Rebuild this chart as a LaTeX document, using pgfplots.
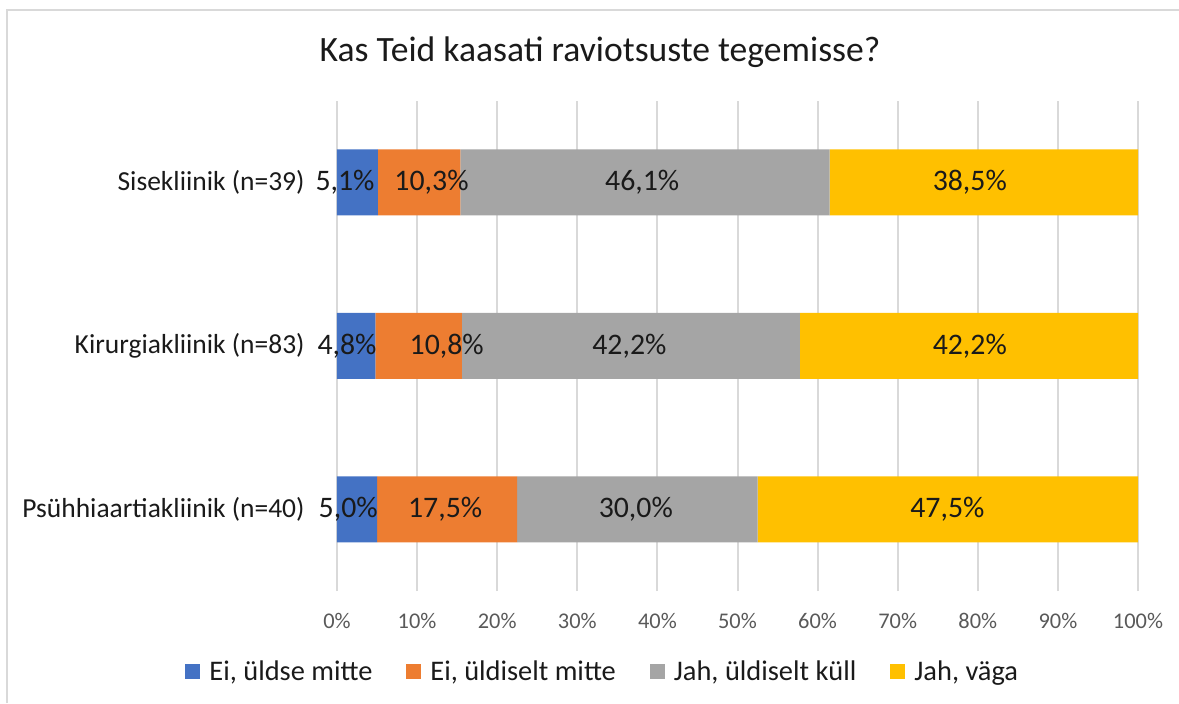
\documentclass[border=0pt]{standalone}
\usepackage{pgfplots}
\pgfplotsset{compat=1.18}
\usepackage{fontspec}
\setmainfont{Carlito}
\definecolor{cBlue}{HTML}{4472C4}
\definecolor{cOrange}{HTML}{ED7D31}
\definecolor{cGray}{HTML}{A5A5A5}
\definecolor{cYellow}{HTML}{FFC000}
\definecolor{gridgray}{HTML}{D9D9D9}
\definecolor{tickgray}{HTML}{595959}
\definecolor{txt}{HTML}{1A1A1A}
\tikzset{dl/.style={font=\fontsize{14.9}{17}\selectfont, text=txt}}
\begin{document}
\begin{tikzpicture}
\useasboundingbox (0,0) rectangle (589.5pt,351.5pt);
\draw[color=gridgray, line width=1pt] (3.5pt,0pt) -- (3.5pt,346.5pt) -- (589.5pt,346.5pt);
\node[font=\fontsize{17.8}{20}\selectfont, text=txt] at (300pt,325.5pt) {Kas Teid kaasati raviotsuste tegemisse?};
\begin{axis}[
  at={(168.5pt,56pt)}, anchor=south west,
  scale only axis, width=400.5pt, height=245.25pt,
  xbar stacked, bar width=33pt,
  xmin=0, xmax=100, ymin=-0.5, ymax=2.5,
  clip=false,
  axis line style={draw=none},
  major tick length=0pt,
  xmajorgrids, grid style={color=gridgray, line width=1pt},
  xtick={0,10,...,100},
  xticklabels={0\%,10\%,20\%,30\%,40\%,50\%,60\%,70\%,80\%,90\%,100\%},
  xticklabel style={font=\fontsize{11.2}{13}\selectfont, text=tickgray, anchor=center, yshift=-15pt},
  ytick={0,1,2},
  yticklabels={Psühhiaartiakliinik (n=40),Kirurgiakliinik (n=83),Sisekliinik (n=39)},
  yticklabel style={font=\fontsize{13.75}{16}\selectfont, text=txt, anchor=east, inner sep=0pt, xshift=-16pt},
  legend columns=4,
  legend cell align=left,
  legend image code/.code={\fill[#1] (0pt,-3.75pt) rectangle (7.5pt,3.75pt);},
  legend style={at={(0.333,-0.165)}, anchor=center, draw=none, fill=none,
    font=\fontsize{14.2}{16}\selectfont, text=txt,
    /tikz/every odd column/.append style={column sep=2.5pt},
    /tikz/every even column/.append style={column sep=15pt}},
]
\addplot[fill=cBlue, draw=none] coordinates {(5.0,0) (4.8,1) (5.1,2)};
\addlegendentry{Ei, üldse mitte}
\addplot[fill=cOrange, draw=none] coordinates {(17.5,0) (10.8,1) (10.3,2)};
\addlegendentry{Ei, üldiselt mitte}
\addplot[fill=cGray, draw=none] coordinates {(30.0,0) (42.2,1) (46.1,2)};
\addlegendentry{Jah, üldiselt küll}
\addplot[fill=cYellow, draw=none] coordinates {(47.5,0) (42.2,1) (38.5,2)};
\addlegendentry{Jah, väga}
\coordinate (a1) at (axis cs:1.0,2);
\coordinate (a2) at (axis cs:11.8,2);
\coordinate (a3) at (axis cs:38.1,2);
\coordinate (a4) at (axis cs:79.0,2);
\coordinate (b1) at (axis cs:1.25,1);
\coordinate (b2) at (axis cs:13.7,1);
\coordinate (b3) at (axis cs:36.5,1);
\coordinate (b4) at (axis cs:79.0,1);
\coordinate (c1) at (axis cs:1.4,0);
\coordinate (c2) at (axis cs:13.5,0);
\coordinate (c3) at (axis cs:37.3,0);
\coordinate (c4) at (axis cs:76.2,0);
\end{axis}
\node[dl] at (a1) {5,1\%};
\node[dl] at (a2) {10,3\%};
\node[dl] at (a3) {46,1\%};
\node[dl] at (a4) {38,5\%};
\node[dl] at (b1) {4,8\%};
\node[dl] at (b2) {10,8\%};
\node[dl] at (b3) {42,2\%};
\node[dl] at (b4) {42,2\%};
\node[dl] at (c1) {5,0\%};
\node[dl] at (c2) {17,5\%};
\node[dl] at (c3) {30,0\%};
\node[dl] at (c4) {47,5\%};
\end{tikzpicture}
\end{document}
